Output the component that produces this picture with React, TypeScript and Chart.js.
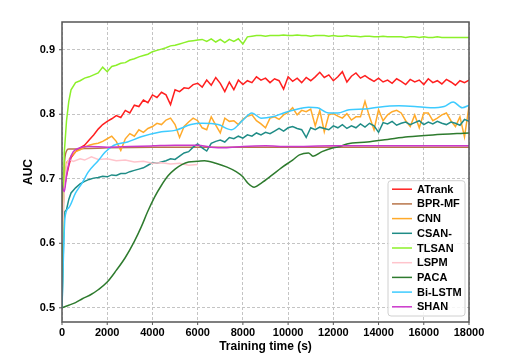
import React, { useEffect, useRef } from "react";
import { Chart, registerables } from "chart.js";

Chart.register(...registerables);

const seriesNames = ["ATrank", "BPR-MF", "CNN", "CSAN-", "TLSAN", "LSPM", "PACA", "Bi-LSTM", "SHAN"];
const seriesColors = ["#ff1f1f", "#b8754a", "#ffaa2a", "#1f8c86", "#8cf02a", "#ffc4cc", "#2e7b2e", "#3dcbff", "#cc38cc"];

const xTickValues = [0, 2000, 4000, 6000, 8000, 10000, 12000, 14000, 16000, 18000];
const yTickValues = [0.5, 0.6, 0.7, 0.8, 0.9];

// shared time grid for the noisy series
const noisyTimes = [
  0, 100, 200, 300, 400, 600, 800, 1000, 1200, 1400,
  1600, 1800, 2000, 2200, 2400, 2600, 2800, 3000, 3200, 3400,
  3600, 3800, 4000, 4200, 4400, 4600, 4800, 5000, 5200, 5400,
  5600, 5800, 6000, 6200, 6400, 6600, 6800, 7000, 7200, 7400,
  7600, 7800, 8000, 8200, 8400, 8600, 8800, 9000, 9200, 9400,
  9600, 9800, 10000, 10200, 10400, 10600, 10800, 11000, 11200, 11400,
  11600, 11800, 12000, 12200, 12400, 12600, 12800, 13000, 13200, 13400,
  13600, 13800, 14000, 14200, 14400, 14600, 14800, 15000, 15200, 15400,
  15600, 15800, 16000, 16200, 16400, 16600, 16800, 17000, 17200, 17400,
  17600, 17800, 18000,
];

const atrankAUC = [
  0.63, 0.685, 0.705, 0.72, 0.733, 0.742, 0.748, 0.752, 0.76, 0.768,
  0.777, 0.784, 0.789, 0.793, 0.798, 0.795, 0.806, 0.802, 0.814, 0.812,
  0.822, 0.818, 0.83, 0.826, 0.834, 0.83, 0.815, 0.838, 0.835, 0.841,
  0.84, 0.846, 0.848, 0.842, 0.853, 0.845, 0.857, 0.848, 0.835, 0.85,
  0.838, 0.853, 0.846, 0.852, 0.849, 0.858, 0.853, 0.856, 0.849, 0.855,
  0.852, 0.839, 0.858, 0.851, 0.856, 0.849, 0.857, 0.852, 0.858, 0.865,
  0.857, 0.861, 0.852, 0.858, 0.866, 0.85, 0.859, 0.864, 0.856, 0.86,
  0.855, 0.851, 0.856, 0.85, 0.853, 0.848, 0.855, 0.851, 0.846, 0.854,
  0.85, 0.853, 0.846, 0.855, 0.849, 0.852, 0.847, 0.854, 0.85, 0.845,
  0.852, 0.849, 0.853,
];

const cnnAUC = [
  0.65, 0.7, 0.725, 0.729, 0.735, 0.742, 0.745, 0.749, 0.752, 0.754,
  0.755, 0.758, 0.762, 0.766, 0.758, 0.744, 0.762, 0.77, 0.766, 0.776,
  0.772, 0.778, 0.781, 0.786, 0.784, 0.791, 0.794, 0.784, 0.764, 0.781,
  0.788, 0.794, 0.79, 0.779, 0.776, 0.796, 0.783, 0.771, 0.794, 0.789,
  0.79, 0.784, 0.792, 0.797, 0.799, 0.79, 0.785, 0.779, 0.794, 0.796,
  0.792, 0.799, 0.803, 0.81, 0.799, 0.806, 0.804, 0.808, 0.782, 0.806,
  0.773, 0.799, 0.801, 0.797, 0.794, 0.801, 0.791, 0.796, 0.796, 0.82,
  0.796, 0.776, 0.807, 0.79, 0.799, 0.804, 0.806, 0.802, 0.79, 0.781,
  0.799, 0.779, 0.802, 0.802, 0.79, 0.794, 0.799, 0.802, 0.79, 0.781,
  0.796, 0.765, 0.812,
];

const csanAUC = [
  0.5, 0.648, 0.652, 0.668, 0.678, 0.686, 0.692, 0.696, 0.699, 0.701,
  0.702, 0.704, 0.703, 0.706, 0.705, 0.708, 0.708, 0.711, 0.713, 0.715,
  0.717, 0.721, 0.725, 0.724, 0.726, 0.728, 0.731, 0.73, 0.735, 0.74,
  0.742, 0.749, 0.754, 0.748, 0.743, 0.755, 0.758, 0.76, 0.757, 0.764,
  0.762, 0.766, 0.763, 0.768, 0.766, 0.771, 0.768, 0.772, 0.77, 0.774,
  0.778, 0.774, 0.779, 0.781, 0.778, 0.776, 0.764, 0.779, 0.776, 0.78,
  0.778, 0.776, 0.782, 0.779, 0.784, 0.778, 0.782, 0.779, 0.785, 0.78,
  0.786, 0.782, 0.772, 0.787, 0.785, 0.789, 0.783, 0.786, 0.788, 0.784,
  0.787, 0.79, 0.784, 0.788, 0.785, 0.789, 0.786, 0.784, 0.788, 0.786,
  0.783, 0.792, 0.789,
];

const tlsanAUC = [
  0.5, 0.74, 0.79, 0.82, 0.838, 0.849, 0.852, 0.856, 0.858, 0.861,
  0.864, 0.873, 0.866, 0.874, 0.876, 0.879, 0.88, 0.884, 0.886, 0.889,
  0.891, 0.893, 0.897, 0.899, 0.901, 0.903, 0.906, 0.907, 0.909, 0.911,
  0.913, 0.914, 0.915, 0.916, 0.913, 0.917, 0.912, 0.916, 0.911, 0.916,
  0.913, 0.917, 0.909, 0.92, 0.921, 0.922, 0.922, 0.921, 0.922, 0.922,
  0.922, 0.923, 0.922, 0.922, 0.923, 0.922, 0.922, 0.921, 0.922, 0.922,
  0.922, 0.921, 0.922, 0.921, 0.921, 0.922, 0.921, 0.921, 0.92, 0.921,
  0.921, 0.92, 0.92, 0.921, 0.92, 0.92, 0.92, 0.92, 0.919, 0.92,
  0.92, 0.919, 0.92, 0.919, 0.919, 0.92, 0.919, 0.919, 0.919, 0.919,
  0.919, 0.919, 0.919,
];

const bprmfTimes = [0, 100, 200, 300, 600, 1000, 2000, 4000, 8000, 12000, 18000];
const bprmfAUC = [0.62, 0.72, 0.743, 0.746, 0.746, 0.747, 0.748, 0.749, 0.749, 0.749, 0.749];

const lspmTimes = [0, 100, 200, 300, 500, 800, 1000, 1300, 1600, 2000, 2400, 2800, 3200, 3600, 4000, 4400, 4800, 5200, 5600, 6000];
const lspmAUC = [0.6, 0.68, 0.722, 0.73, 0.727, 0.731, 0.729, 0.734, 0.73, 0.731, 0.728, 0.729, 0.726, 0.727, 0.724, 0.725, 0.723, 0.724, 0.721, 0.722];

const pacaTimes = [
  0, 300, 600, 900, 1300, 1600, 2000, 2400, 2800, 3200,
  3500, 3800, 4100, 4400, 4700, 5000, 5300, 5600, 6000, 6300,
  6800, 7300, 7700, 8000, 8200, 8500, 8800, 9300, 9700, 10200,
  10500, 10900, 11100, 11500, 12000, 12300, 12600, 13500, 14400, 15300,
  16400, 18000,
];
const pacaAUC = [
  0.5, 0.504, 0.508, 0.514, 0.521, 0.528, 0.54, 0.558, 0.578, 0.603,
  0.625, 0.65, 0.672, 0.69, 0.705, 0.715, 0.722, 0.726, 0.727, 0.728,
  0.724, 0.718, 0.711, 0.703, 0.694, 0.687, 0.693, 0.706, 0.717, 0.729,
  0.737, 0.74, 0.735, 0.742, 0.748, 0.75, 0.754, 0.757, 0.761, 0.765,
  0.768, 0.771,
];

const bilstmTimes = [
  0, 130, 300, 600, 900, 1150, 1600, 1900, 2300, 2900,
  3500, 4400, 5000, 5700, 6200, 6900, 7500, 8000, 8400, 8800,
  9300, 9800, 10300, 10900, 11300, 11800, 12200, 12700, 13400, 14000,
  14900, 15600, 16300, 16900, 17300, 17700, 18000,
];
const bilstmAUC = [
  0.5, 0.639, 0.655, 0.678, 0.694, 0.71, 0.728, 0.741, 0.752, 0.757,
  0.765, 0.773, 0.775, 0.784, 0.786, 0.784, 0.776, 0.791, 0.802, 0.794,
  0.796, 0.802, 0.807, 0.811, 0.81, 0.802, 0.802, 0.807, 0.808, 0.811,
  0.813, 0.812, 0.81, 0.812, 0.819, 0.81, 0.814,
];

const shanTimes = [0, 100, 200, 350, 500, 800, 1200, 2000, 3000, 4000, 5000, 6000, 6600, 7200, 8000, 9000, 10000, 12000, 14000, 16000, 18000];
const shanAUC = [0.69, 0.68, 0.705, 0.73, 0.742, 0.748, 0.75, 0.749, 0.75, 0.751, 0.752, 0.752, 0.749, 0.748, 0.75, 0.751, 0.75, 0.751, 0.751, 0.751, 0.751];

const seriesTimes = [noisyTimes, bprmfTimes, noisyTimes, noisyTimes, noisyTimes, lspmTimes, pacaTimes, bilstmTimes, shanTimes];
const seriesValues = [atrankAUC, bprmfAUC, cnnAUC, csanAUC, tlsanAUC, lspmAUC, pacaAUC, bilstmAUC, shanAUC];
const smoothSeries = [false, true, false, false, false, false, true, true, true];

const FONT = "'Liberation Sans', Arial, sans-serif";

const framePlugin = {
  id: "frameAndLegend",
  afterDatasetsDraw(chart: any) {
    const { ctx, chartArea: a, scales } = chart;
    ctx.save();
    ctx.setLineDash([]);
    ctx.strokeStyle = "#555555";
    ctx.lineWidth = 1.5;
    ctx.strokeRect(a.left, a.top, a.right - a.left, a.bottom - a.top);
    ctx.lineWidth = 1;
    ctx.beginPath();
    xTickValues.forEach((v) => {
      const x = scales.x.getPixelForValue(v);
      ctx.moveTo(x, a.bottom);
      ctx.lineTo(x, a.bottom + 3);
    });
    yTickValues.forEach((v) => {
      const y = scales.y.getPixelForValue(v);
      ctx.moveTo(a.left, y);
      ctx.lineTo(a.left - 3, y);
    });
    ctx.stroke();
    ctx.restore();
  },
  afterDraw(chart: any) {
    const { ctx, chartArea: a } = chart;
    const right = a.right - 4;
    const bottom = a.bottom - 6;
    const left = 388;
    const rowH = 14.7;
    const top = bottom - rowH * seriesNames.length - 3;
    ctx.save();
    ctx.beginPath();
    (ctx as any).roundRect(left, top, right - left, bottom - top, 3);
    ctx.fillStyle = "rgba(255,255,255,0.85)";
    ctx.fill();
    ctx.strokeStyle = "#d0d0d0";
    ctx.lineWidth = 1;
    ctx.stroke();
    ctx.font = `bold 11px ${FONT}`;
    ctx.textBaseline = "middle";
    ctx.textAlign = "left";
    seriesNames.forEach((name, i) => {
      const y = top + 8.5 + i * rowH;
      ctx.strokeStyle = seriesColors[i];
      ctx.lineWidth = 1.5;
      ctx.beginPath();
      ctx.moveTo(left + 4, y);
      ctx.lineTo(left + 24, y);
      ctx.stroke();
      ctx.fillStyle = "#000";
      ctx.fillText(name, left + 29, y + 0.5);
    });
    ctx.restore();
  },
};

export default function App() {
  const canvasRef = useRef<HTMLCanvasElement | null>(null);

  useEffect(() => {
    if (!canvasRef.current) return;
    const datasets = seriesNames.map((name, i) => ({
      label: name,
      data: seriesTimes[i].map((t, j) => ({ x: t, y: seriesValues[i][j] })),
      borderColor: seriesColors[i],
      backgroundColor: seriesColors[i],
      borderWidth: 1.5,
      pointRadius: 0,
      fill: false,
      tension: smoothSeries[i] ? 0.3 : 0,
      cubicInterpolationMode: smoothSeries[i] ? ("monotone" as const) : ("default" as const),
      order: seriesNames.length - i,
    }));

    const chart = new Chart(canvasRef.current, {
      type: "line",
      data: { datasets },
      options: {
        animation: false,
        responsive: false,
        maintainAspectRatio: false,
        devicePixelRatio: 1,
        layout: { padding: { left: 0, right: 59, top: 22, bottom: 0 } },
        plugins: { legend: { display: false }, tooltip: { enabled: false } },
        scales: {
          x: {
            type: "linear",
            min: 0,
            max: 18000,
            afterFit: (s: any) => {
              s.height = 38;
            },
            afterBuildTicks: (s: any) => {
              s.ticks = xTickValues.map((v) => ({ value: v }));
            },
            ticks: {
              color: "#000",
              padding: 4,
              maxRotation: 0,
              autoSkip: false,
              font: { family: FONT, size: 11, weight: "bold" },
              callback: (v: any) => String(v),
            },
            grid: { color: "#c4c4c4", lineWidth: 1, drawTicks: false },
            border: { display: false, dash: [3, 2] },
            title: {
              display: true,
              text: "Training time (s)",
              color: "#000",
              font: { family: FONT, size: 12, weight: "bold" },
              padding: { top: 0, bottom: 6 },
            },
          },
          y: {
            type: "linear",
            min: 0.478,
            max: 0.943,
            afterFit: (s: any) => {
              s.width = 62;
            },
            afterBuildTicks: (s: any) => {
              s.ticks = yTickValues.map((v) => ({ value: v }));
            },
            ticks: {
              color: "#000",
              padding: 7,
              font: { family: FONT, size: 11, weight: "bold" },
              callback: (v: any) => Number(v).toFixed(1),
            },
            grid: { color: "#c4c4c4", lineWidth: 1, drawTicks: false },
            border: { display: false, dash: [3, 2] },
            title: {
              display: true,
              text: "AUC",
              color: "#000",
              font: { family: FONT, size: 12, weight: "bold" },
              padding: { top: 21, bottom: 0 },
            },
          },
        },
      },
      plugins: [framePlugin],
    });
    return () => chart.destroy();
  }, []);

  return (
    <div style={{ position: "absolute", left: 0, top: 0, width: 528, height: 360, background: "#fff" }}>
      <canvas ref={canvasRef} width={528} height={360} style={{ display: "block" }} />
    </div>
  );
}
